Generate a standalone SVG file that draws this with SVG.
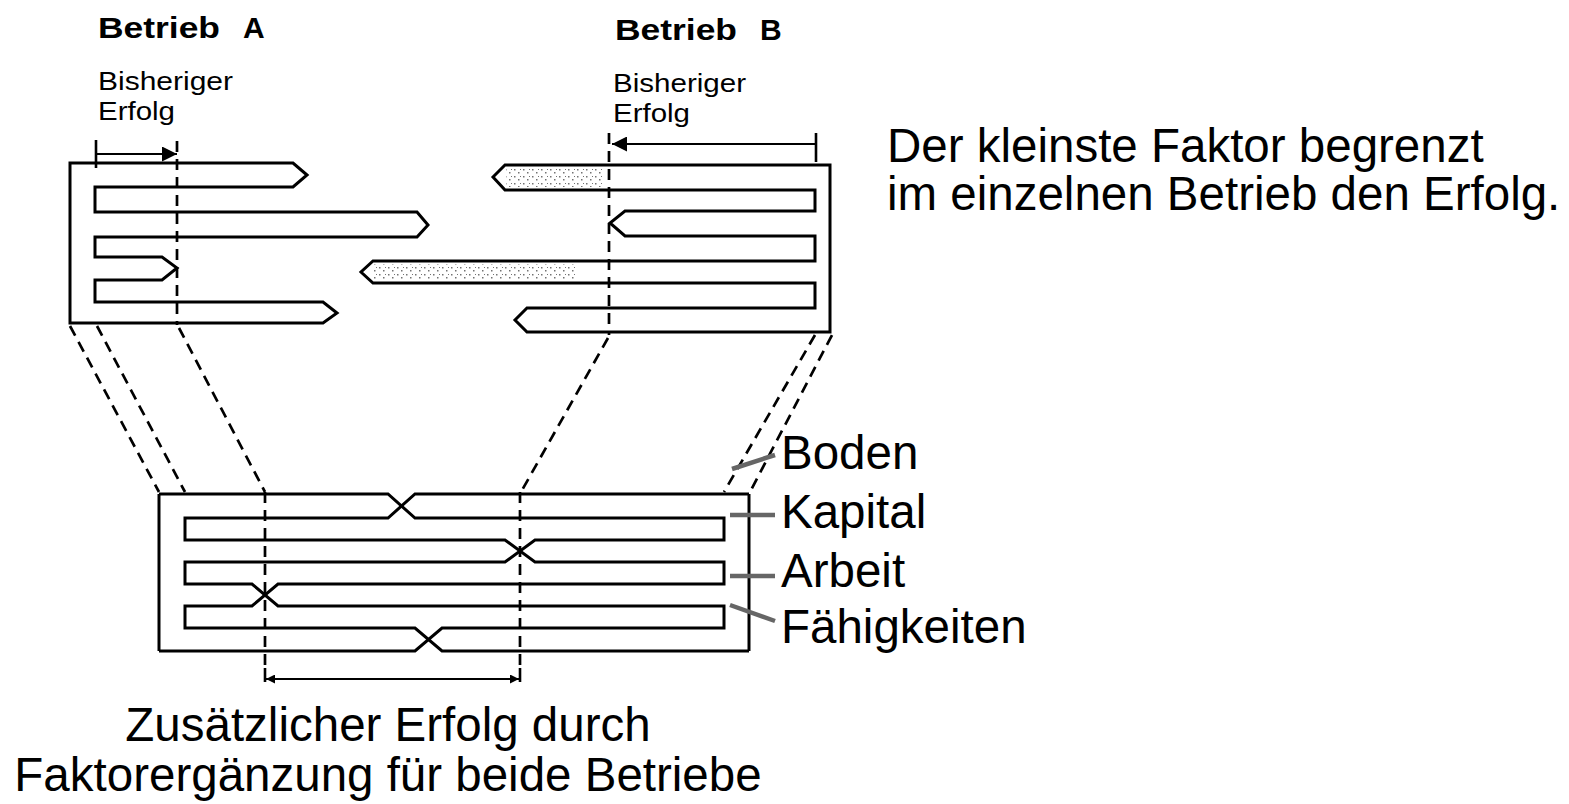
<svg xmlns="http://www.w3.org/2000/svg" width="1569" height="804" viewBox="0 0 1569 804">
<style>
.frame{fill:none;stroke:#000;stroke-width:3;stroke-linejoin:miter}
.dash{fill:none;stroke:#000;stroke-width:2.7;stroke-dasharray:11 7}
.dim{fill:none;stroke:#000;stroke-width:1.8}
.tick{fill:none;stroke:#000;stroke-width:2.6}
.lead{fill:none;stroke:#666;stroke-width:4.5}
.big{font-family:"Liberation Sans",Arial,sans-serif;font-size:47.5px;fill:#000}
.hdr{font-family:"Liberation Sans",Arial,sans-serif;font-size:30px;font-weight:bold;fill:#000}
.sub{font-family:"Liberation Sans",Arial,sans-serif;font-size:25px;fill:#000}
</style>
<defs>
<pattern id="stipple" width="9" height="7" patternUnits="userSpaceOnUse">
<rect x="1" y="1" width="1.5" height="1.5" fill="#000"/>
<rect x="5" y="4" width="1.5" height="1.5" fill="#000"/>
<rect x="7" y="1" width="1" height="1" fill="#000"/>
</pattern>
<marker id="ah" viewBox="0 0 10 10" refX="10" refY="5" markerWidth="10" markerHeight="9" markerUnits="userSpaceOnUse" orient="auto-start-reverse">
<path d="M0,0 L10,5 L0,10 Z" fill="#000"/>
</marker>
<marker id="ahBig" viewBox="0 0 10 10" refX="10" refY="5" markerWidth="19" markerHeight="15" markerUnits="userSpaceOnUse" orient="auto-start-reverse">
<path d="M0,0 L10,5 L0,10 Z" fill="#000"/>
</marker>
</defs>

<g id="betrieb-a">
<text class="hdr" x="98" y="38" textLength="122" lengthAdjust="spacingAndGlyphs">Betrieb</text>
<text class="hdr" x="243" y="38">A</text>
<text class="sub" x="98" y="90" textLength="135" lengthAdjust="spacingAndGlyphs">Bisheriger</text>
<text class="sub" x="98" y="120" textLength="77" lengthAdjust="spacingAndGlyphs">Erfolg</text>
<path class="frame" d="M307,175 L293,163 L70,163 L70,323 L323,323 L337,313 L323,302 L95,302 L95,280 L162,280 L177,268 L162,257 L95,257 L95,237 L417,237 L428,225 L417,212 L95,212 L95,187 L293,187 Z"/>
<line class="tick" x1="96" y1="140" x2="96" y2="168"/>
<line class="dim" x1="96" y1="154" x2="177" y2="154" marker-end="url(#ahBig)"/>
</g>

<g id="betrieb-b">
<text class="hdr" x="615" y="40" textLength="122" lengthAdjust="spacingAndGlyphs">Betrieb</text>
<text class="hdr" x="760" y="40">B</text>
<text class="sub" x="613" y="92" textLength="133" lengthAdjust="spacingAndGlyphs">Bisheriger</text>
<text class="sub" x="613" y="122" textLength="77" lengthAdjust="spacingAndGlyphs">Erfolg</text>
<rect x="506" y="168" width="98" height="19" fill="url(#stipple)" opacity="0.55"/>
<rect x="372" y="264" width="205" height="16" fill="url(#stipple)" opacity="0.55"/>
<path class="frame" d="M493,177 L505,165 L830,165 L830,332 L527,332 L515,320 L527,308 L815,308 L815,283 L373,283 L361,272 L373,261 L815,261 L815,236 L625,236 L610,223 L625,211 L815,211 L815,190 L505,190 Z"/>
<line class="tick" x1="816" y1="133" x2="816" y2="162"/>
<line class="dim" x1="816" y1="144" x2="612" y2="144" marker-end="url(#ahBig)"/>
</g>

<g id="combined">
<g class="frame">
<line x1="159" y1="494" x2="159" y2="651"/>
<line x1="749" y1="494" x2="749" y2="651"/>
<polyline points="159,494 388,494 415,518 724,518 724,540 535,540 505,562 185,562 185,584 252,584 278,606 724,606 724,628 442,628 415,651 159,651"/>
<polyline points="749,494 415,494 388,518 185,518 185,540 505,540 535,562 724,562 724,584 278,584 252,606 185,606 185,628 415,628 442,651 749,651"/>
</g>
<line class="tick" x1="265" y1="668" x2="265" y2="682"/>
<line class="tick" x1="520" y1="668" x2="520" y2="682"/>
<line class="dim" x1="266" y1="679" x2="519" y2="679" marker-start="url(#ah)" marker-end="url(#ah)"/>
</g>

<g id="connectors">
<line class="dash" x1="177" y1="141" x2="177" y2="325"/>
<line class="dash" x1="609" y1="133" x2="609" y2="335"/>
<line class="dash" x1="70" y1="326" x2="159" y2="492"/>
<line class="dash" x1="97" y1="326" x2="185" y2="492"/>
<line class="dash" x1="179" y1="328" x2="265" y2="492"/>
<line class="dash" x1="265" y1="492" x2="265" y2="668"/>
<line class="dash" x1="608" y1="338" x2="521" y2="492"/>
<line class="dash" x1="520" y1="492" x2="520" y2="668"/>
<line class="dash" x1="815" y1="335" x2="724" y2="492"/>
<line class="dash" x1="832" y1="335" x2="750" y2="492"/>
</g>

<g id="labels">
<line class="lead" x1="732" y1="469" x2="775" y2="455"/>
<line class="lead" x1="730" y1="515" x2="775" y2="515"/>
<line class="lead" x1="730" y1="576" x2="775" y2="576"/>
<line class="lead" x1="730" y1="605" x2="775" y2="621"/>
<text class="big" x="781" y="469">Boden</text>
<text class="big" x="781" y="528">Kapital</text>
<text class="big" x="781" y="587">Arbeit</text>
<text class="big" x="781" y="643">Fähigkeiten</text>
</g>

<g id="captions">
<text class="big" x="887" y="162">Der kleinste Faktor begrenzt</text>
<text class="big" x="887" y="210">im einzelnen Betrieb den Erfolg.</text>
<text class="big" x="388" y="741" text-anchor="middle">Zusätzlicher Erfolg durch</text>
<text class="big" x="388" y="791" text-anchor="middle">Faktorergänzung für beide Betriebe</text>
</g>
</svg>
